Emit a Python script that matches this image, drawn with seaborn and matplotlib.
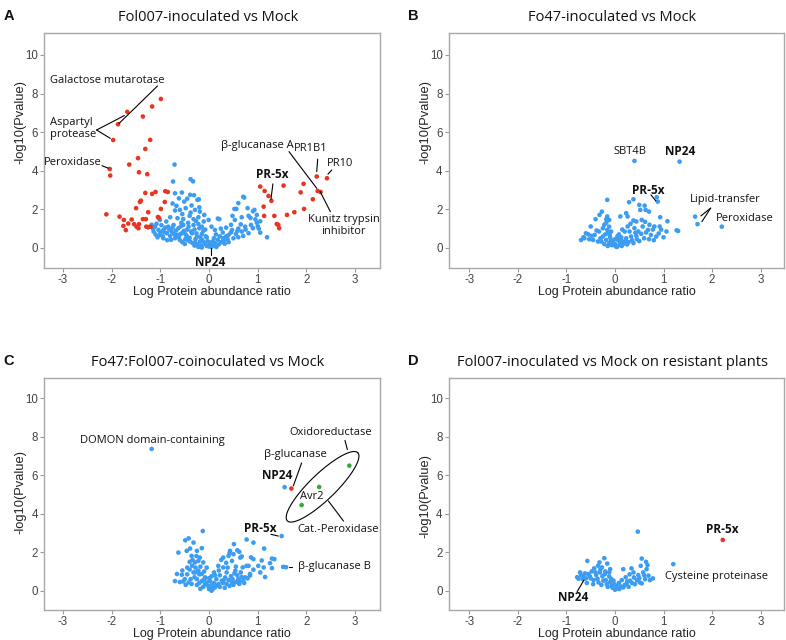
import numpy as np
import pandas as pd
import matplotlib.pyplot as plt
import seaborn as sns

sns.set_theme(style="white")
plt.rcParams['font.family'] = ['Liberation Sans', 'DejaVu Sans']
plt.rcParams['axes.unicode_minus'] = False

# colores de los puntos
colores = {'ns': '#3b9cf2', 'sig': '#e8351f', 'avr': '#38a836'}

# ---------------- Panel A: Fol007-inoculated vs Mock ----------------
a_azul = [
    (-0.71, 4.32), (-0.74, 3.44), (-0.38, 3.56), (-0.33, 3.45), (-0.70, 2.83), (-0.56, 2.87), (-0.39, 2.75),
    (-0.31, 2.73), (-0.24, 2.49), (-0.62, 2.57), (-0.51, 2.40), (-0.67, 2.18), (-0.60, 1.97), (-0.70, 1.94),
    (-0.48, 2.06), (-0.38, 1.83), (-0.29, 1.97), (-0.19, 1.88), (-0.80, 1.59), (-0.65, 1.54), (-0.53, 1.49),
    (-0.40, 1.66), (-0.32, 1.49), (-0.22, 1.59), (-0.10, 1.71), (-0.88, 1.37), (-1.01, 1.45), (-1.11, 1.10),
    (-1.04, 0.93), (-1.14, 0.85), (-1.01, 0.67), (-0.94, 0.93), (-0.84, 1.10), (-0.73, 1.19), (-0.63, 1.02),
    (-0.53, 1.19), (-0.42, 1.10), (-0.32, 1.19), (-0.22, 1.24), (-0.11, 1.37), (-0.01, 1.45), (-0.87, 0.76),
    (-0.77, 0.85), (-0.66, 0.67), (-0.56, 0.76), (-0.46, 0.62), (-0.35, 0.76), (-0.25, 0.59), (-0.15, 0.72),
    (-0.05, 0.55), (-0.70, 0.50), (-0.60, 0.41), (-0.49, 0.45), (-0.39, 0.33), (-0.29, 0.28), (-0.19, 0.33),
    (-0.08, 0.21), (0.00, 0.07), (-1.06, 0.55), (-0.94, 0.50),
    (-1.18, 1.20), (-1.15, 1.00), (-1.10, 0.70), (-1.08, 1.25), (-0.98, 1.18), (-0.95, 0.60), (-0.90, 1.05),
    (-0.82, 0.95), (-0.80, 0.62), (-0.78, 0.42), (-0.75, 1.05), (-0.72, 0.72), (-0.68, 0.90), (-0.62, 0.55),
    (-0.58, 1.12), (-0.55, 0.30), (-0.52, 0.88), (-0.48, 0.70), (-0.45, 0.95), (-0.44, 0.40), (-0.40, 0.52),
    (-0.37, 0.85), (-0.34, 0.25), (-0.30, 0.95), (-0.28, 0.45), (-0.26, 0.75), (-0.24, 0.18), (-0.20, 1.02),
    (-0.18, 0.55), (-0.16, 0.12), (-0.14, 0.40), (-0.12, 0.88), (-0.10, 0.28), (-0.07, 0.60), (-0.05, 0.10),
    (-0.03, 0.35), (0.02, 0.20), (-0.60, 0.70), (-0.50, 0.20), (-0.86, 0.40), (-0.92, 0.82), (-1.00, 0.80),
    (-0.43, 1.30), (-0.57, 1.30), (-0.27, 1.40), (-0.15, 1.10), (-0.08, 0.95), (-0.36, 2.20), (-0.45, 2.55),
    (-0.20, 2.10), (-0.55, 1.75), (-0.75, 2.30), (-0.15, 0.02), (-0.22, 0.05), (-0.30, 0.12),
    (-0.21, 2.52), (0.72, 2.61), (0.60, 2.32), (0.52, 2.02), (0.79, 2.06), (0.93, 1.97), (0.98, 1.71),
    (0.81, 1.66), (0.67, 1.59), (0.48, 1.66), (0.53, 1.45), (0.21, 1.49), (0.98, 1.31), (0.86, 1.19),
    (0.74, 1.10), (0.60, 1.00), (0.47, 0.93), (0.67, 0.85), (0.81, 0.76), (1.05, 0.79), (1.19, 0.55),
    (0.40, 0.67), (0.29, 0.50), (0.12, 0.93), (0.05, 1.10), (0.05, 0.05), (0.10, 0.12), (0.12, 0.25),
    (0.15, 0.05), (0.20, 0.18), (0.25, 0.30), (0.30, 0.38), (0.18, 0.42), (0.22, 0.60), (0.35, 0.60),
    (0.38, 0.45), (0.45, 0.80), (0.55, 0.72), (0.60, 0.55), (0.70, 0.62), (0.75, 0.95), (0.90, 1.02),
    (1.00, 1.12), (0.65, 1.22), (0.45, 1.20), (1.05, 1.38), (0.95, 1.48), (0.85, 1.55), (0.08, 0.35),
    (0.14, 0.70), (0.32, 0.22), (0.28, 0.80), (0.40, 0.30), (0.50, 0.50), (0.58, 0.88), (0.10, 0.50),
    (0.70, 2.65), (0.18, 1.52), (0.56, 2.02), (0.90, 1.90), (1.02, 1.00), (0.35, 1.05), (0.03, 0.28),
    (0.24, 1.00),
]
a_rojo = [
    (-0.99, 7.72), (-1.17, 7.33), (-1.68, 7.05), (-1.87, 6.41), (-1.36, 6.81), (-1.97, 5.59), (-1.21, 5.60),
    (-1.31, 5.13), (-1.46, 4.65), (-1.64, 4.32), (-2.04, 4.09), (-2.03, 3.75), (-1.44, 3.92), (-1.27, 3.82),
    (-1.31, 2.85), (-1.17, 2.80), (-1.10, 2.90), (-0.90, 2.94), (-0.85, 2.90), (-1.40, 2.45), (-1.42, 2.38),
    (-0.91, 2.38), (-1.50, 2.06), (-1.25, 1.85), (-0.99, 2.02), (-2.11, 1.74), (-1.84, 1.62), (-1.75, 1.45),
    (-1.59, 1.47), (-1.36, 1.49), (-1.30, 1.49), (-1.03, 1.55), (-1.66, 1.26), (-1.54, 1.23), (-1.49, 1.10),
    (-1.44, 1.23), (-1.76, 1.14), (-1.71, 0.92), (-1.45, 1.02), (-1.29, 1.10), (-1.25, 1.07), (-1.20, 1.10),
    (-1.05, 1.60),
    (2.21, 3.70), (2.42, 3.61), (1.94, 3.32), (1.53, 3.23), (1.05, 3.18), (1.14, 2.95), (1.88, 2.88),
    (2.23, 2.95), (2.29, 2.90), (1.22, 2.69), (1.28, 2.44), (2.13, 2.52), (1.12, 2.14), (1.95, 2.02),
    (1.75, 1.85), (1.60, 1.71), (1.34, 1.66), (1.13, 1.66), (1.39, 1.24), (1.42, 1.19), (1.44, 1.02),
]

# ---------------- Panel B: Fo47-inoculated vs Mock ----------------
b_azul = [
    (0.40, 4.51), (1.33, 4.47), (0.86, 2.63), (0.88, 2.40), (1.65, 1.62), (1.70, 1.23), (2.20, 1.10),
    (-0.16, 2.49), (0.29, 2.37), (0.38, 2.52), (0.50, 2.23), (0.61, 2.19), (0.63, 1.97), (0.70, 1.88),
    (0.52, 1.97), (-0.27, 1.88), (0.23, 1.80), (0.26, 1.63), (0.44, 1.37), (0.38, 1.42), (0.11, 1.63),
    (-0.16, 1.63), (-0.32, 1.71), (-0.40, 1.49), (-0.18, 1.49), (0.92, 1.11), (1.06, 0.85), (1.30, 0.88),
    (0.71, 1.20), (0.81, 1.11), (-0.50, 1.11), (-0.60, 0.76), (-0.70, 0.41), (-0.63, 0.50), (-0.53, 0.45),
    (-0.42, 0.67), (-0.33, 0.85), (-0.25, 1.02), (-0.22, 1.20), (-0.16, 0.93), (-0.11, 0.67), (-0.08, 0.41),
    (-0.05, 0.15), (0.02, 0.07), (0.09, 0.15), (0.16, 0.33), (0.23, 0.50), (0.33, 0.59), (0.44, 0.62),
    (0.54, 0.73), (0.64, 0.80), (0.74, 0.67), (0.85, 0.59), (0.30, 0.85), (0.40, 1.02), (0.57, 1.11),
    (0.68, 0.93), (0.20, 0.85), (0.26, 1.11), (0.06, 0.41), (0.13, 0.55), (-0.18, 0.41), (-0.25, 0.59),
    (-0.28, 0.33), (-0.35, 0.33), (-0.45, 0.41), (0.93, 1.59), (1.08, 1.38), (1.27, 0.91),
    (-0.15, 0.10), (-0.12, 0.25), (-0.10, 0.55), (-0.14, 0.80), (-0.12, 1.10), (-0.18, 1.30), (-0.20, 0.70),
    (-0.22, 0.20), (-0.05, 0.30), (0.00, 0.20), (0.04, 0.05), (0.10, 0.28), (0.14, 0.10), (0.18, 0.22),
    (0.22, 0.35), (0.28, 0.30), (0.35, 0.40), (0.38, 0.25), (0.45, 0.45), (0.50, 0.35), (0.60, 0.50),
    (0.08, 0.70), (0.15, 0.95), (0.32, 1.25), (0.48, 0.85), (0.55, 1.45), (0.62, 1.35), (0.78, 0.95),
    (0.90, 0.75), (-0.08, 0.85), (-0.30, 0.50), (-0.38, 0.90), (-0.48, 0.62), (-0.55, 0.70), (-0.65, 0.55),
    (-0.12, 1.45), (-0.07, 0.15), (0.00, 0.45), (0.05, 0.60), (0.12, 0.40), (0.25, 0.18), (0.42, 0.78),
    (0.70, 0.45), (0.80, 0.40), (1.00, 0.55), (0.95, 0.95),
]

# ---------------- Panel C: Fo47:Fol007-coinoculated vs Mock ----------------
c_azul = [
    (-1.18, 7.37), (1.55, 5.38), (1.49, 2.84), (1.52, 1.24), (1.58, 1.22),
    (-0.13, 3.10), (-0.49, 2.62), (-0.42, 2.72), (-0.32, 2.50), (-0.39, 2.19), (-0.63, 1.98), (-0.46, 2.07),
    (-0.25, 2.07), (-0.15, 2.21), (-0.36, 1.81), (-0.19, 1.72), (-0.29, 1.47), (-0.12, 1.47), (-0.66, 0.87),
    (-0.56, 0.83), (-0.53, 0.48), (-0.42, 0.43), (-0.36, 0.35), (-0.25, 0.60), (-0.32, 0.95), (-0.22, 1.04),
    (-0.15, 0.87), (-0.08, 0.69), (-0.05, 0.43), (0.02, 0.17), (0.05, 0.00), (0.12, 0.17), (0.19, 0.35),
    (0.26, 0.52), (0.33, 0.69), (0.36, 0.95), (0.29, 1.21), (0.19, 1.29), (0.29, 1.72), (0.40, 1.81),
    (0.47, 1.55), (0.50, 1.90), (0.43, 2.07), (0.58, 2.10), (0.64, 1.72), (0.69, 1.21), (0.54, 1.04),
    (0.77, 2.66), (0.81, 1.29), (0.84, 0.87), (0.74, 0.69), (0.60, 0.60), (0.47, 0.43), (0.36, 0.35),
    (0.91, 1.64), (0.51, 2.42), (0.91, 2.50), (1.13, 2.19), (0.62, 2.02), (0.42, 1.95), (0.67, 1.78),
    (0.86, 1.73), (1.08, 1.57), (1.29, 1.67), (1.25, 1.43), (1.34, 1.64), (1.01, 1.29), (1.12, 1.21),
    (0.77, 1.29), (0.91, 1.09), (1.05, 0.95), (0.84, 0.79), (0.67, 0.71), (1.15, 0.71), (0.79, 0.64),
    (1.29, 1.17),
    (-0.70, 0.50), (-0.60, 0.45), (-0.50, 0.60), (-0.45, 0.85), (-0.40, 1.10), (-0.35, 1.30), (-0.28, 1.20),
    (-0.30, 0.70), (-0.25, 0.30), (-0.20, 0.85), (-0.18, 1.25), (-0.15, 0.50), (-0.12, 0.20), (-0.10, 1.00),
    (-0.08, 0.35), (-0.05, 1.20), (-0.02, 0.25), (0.00, 0.08), (0.02, 0.50), (0.08, 0.10), (0.10, 0.40),
    (0.15, 0.25), (0.15, 0.60), (0.22, 0.20), (0.22, 0.80), (0.28, 0.40), (0.32, 0.15), (0.40, 0.55),
    (0.42, 0.25), (0.45, 0.75), (0.50, 0.30), (0.52, 0.90), (0.55, 0.45), (0.58, 0.80), (0.62, 0.35),
    (0.65, 0.95), (0.70, 0.50), (0.72, 0.40), (0.10, 0.95), (0.05, 0.75), (-0.22, 1.55), (-0.26, 1.80),
    (-0.34, 1.60), (-0.40, 1.50), (-0.45, 1.20), (-0.55, 1.05), (-0.48, 0.30), (-0.38, 0.60), (0.20, 1.05),
    (0.35, 1.45), (0.25, 1.60), (-0.18, 0.10), (-0.10, 0.60), (0.05, 0.30), (0.12, 0.80), (0.30, 0.55),
    (0.38, 1.20), (0.48, 0.60), (0.55, 1.25), (0.62, 0.50), (-0.28, 0.95), (-0.20, 0.40), (0.00, 0.65),
]
c_rojo = [(1.69, 5.31)]
c_verde = [(2.88, 6.50), (2.26, 5.39), (1.90, 4.45)]

# ---------------- Panel D: Fol007-inoculated vs Mock on resistant plants ----------------
d_azul = [
    (0.47, 3.07), (1.20, 1.38), (-0.22, 1.69), (-0.57, 1.55), (-0.32, 1.47), (-0.16, 1.41), (-0.43, 1.16),
    (-0.27, 1.21), (-0.10, 1.12), (0.55, 1.67), (0.64, 1.50), (0.67, 1.33), (0.53, 1.29), (0.34, 1.16),
    (0.17, 1.12), (-0.72, 0.95), (-0.65, 0.78), (-0.60, 0.64), (-0.75, 0.62), (-0.50, 0.64), (-0.39, 0.81),
    (-0.31, 0.95), (-0.21, 0.86), (-0.12, 0.74), (-0.03, 0.52), (0.03, 0.26), (0.09, 0.09), (0.17, 0.17),
    (0.24, 0.34), (0.31, 0.52), (0.39, 0.69), (0.48, 0.81), (0.58, 0.95), (0.69, 0.78), (0.78, 0.64),
    (0.62, 0.60), (0.51, 0.43), (0.41, 0.34), (0.65, 1.12), (-0.24, 0.52), (-0.34, 0.43), (-0.45, 0.34),
    (-0.17, 0.34), (-0.07, 0.26), (-0.55, 0.86), (-0.66, 0.60),
    (-0.78, 0.70), (-0.70, 0.80), (-0.62, 0.90), (-0.58, 0.40), (-0.52, 0.75), (-0.48, 1.00), (-0.44, 0.55),
    (-0.40, 0.95), (-0.36, 0.62), (-0.30, 1.10), (-0.28, 0.30), (-0.26, 0.75), (-0.20, 1.00), (-0.19, 0.55),
    (-0.15, 0.20), (-0.12, 0.95), (-0.10, 0.45), (-0.08, 0.62), (-0.05, 0.15), (-0.02, 0.35), (0.00, 0.05),
    (0.05, 0.12), (0.08, 0.40), (0.12, 0.22), (0.14, 0.55), (0.20, 0.30), (0.22, 0.70), (0.28, 0.20),
    (0.30, 0.85), (0.35, 0.40), (0.38, 0.95), (0.45, 0.55), (0.50, 0.65), (0.55, 0.38), (0.60, 0.80),
    (0.72, 0.55), (0.25, 0.48), (-0.35, 1.30),
]
d_rojo = [(2.22, 2.64)]


def tabla(grupos):
    filas = []
    for nombre, puntos in grupos.items():
        for x, y in puntos:
            filas.append({'ratio': x, 'logp': y, 'grupo': nombre})
    return pd.DataFrame(filas)


fig = plt.figure(figsize=(7.86, 6.4), dpi=100)

paneles = {
    'A': dict(pos=[0.0560, 0.5813, 0.4275, 0.3672], xlim=(-3.39, 3.51), ylim=(-1.04, 11.14), ylab_y=0.62,
              titulo='Fol007-inoculated vs Mock', datos={'ns': a_azul, 'sig': a_rojo}),
    'B': dict(pos=[0.5712, 0.5813, 0.4262, 0.3672], xlim=(-3.42, 3.48), ylim=(-1.04, 11.14), ylab_y=0.62,
              titulo='Fo47-inoculated vs Mock', datos={'ns': b_azul}),
    'C': dict(pos=[0.0560, 0.0470, 0.4275, 0.3625], xlim=(-3.39, 3.51), ylim=(-1.0, 11.06), ylab_y=0.51,
              titulo='Fo47:Fol007-coinoculated vs Mock', datos={'ns': c_azul, 'sig': c_rojo, 'avr': c_verde}),
    'D': dict(pos=[0.5712, 0.0470, 0.4262, 0.3625], xlim=(-3.42, 3.48), ylim=(-1.0, 11.06), ylab_y=0.49,
              titulo='Fol007-inoculated vs Mock on resistant plants', datos={'ns': d_azul, 'sig': d_rojo}),
}

ejes = {}
for letra, p in paneles.items():
    ax = fig.add_axes(p['pos'])
    df = tabla(p['datos'])
    sns.scatterplot(data=df, x='ratio', y='logp', hue='grupo', palette=colores,
                    s=11, linewidth=0, legend=False, ax=ax, zorder=3)
    ax.set_xlim(*p['xlim'])
    ax.set_ylim(*p['ylim'])
    ax.set_xticks([-3, -2, -1, 0, 1, 2, 3])
    ax.set_yticks([0, 2, 4, 6, 8, 10])
    ax.tick_params(axis='both', length=3, width=0.8, color='#9a9a9a', labelsize=8.3,
                   labelcolor='#444444', pad=1.5, bottom=True, left=True)
    for sp in ax.spines.values():
        sp.set_color('#a8a8a8')
        sp.set_linewidth(1.0)
    ax.set_xlabel('Log Protein abundance ratio', fontsize=9, color='#222222', labelpad=0)
    ax.set_ylabel('-log10(Pvalue)', fontsize=9.3, color='#222222')
    ax.yaxis.set_label_coords(-0.052, p['ylab_y'])
    # titulo y letra del panel
    bb = ax.get_position()
    fig.text(bb.x0 + bb.width / 2 - 0.005, bb.y1 + 0.012, p['titulo'], ha='center', va='bottom',
             fontsize=10.5, family=['Open Sans', 'DejaVu Sans'], color='#111111')
    fig.text(bb.x0 - 0.052, bb.y1 + 0.016, letra, ha='left', va='bottom', fontsize=10.5,
             fontweight='bold', color='#111111')
    ejes[letra] = ax

fuente = ['Open Sans', 'DejaVu Sans']


def etiqueta(ax, x, y, texto, negrita=False, ha='center', size=8):
    ax.text(x, y, texto, ha=ha, va='center', fontsize=8.5 if negrita else size,
            fontweight='bold' if negrita else 'normal', family=fuente, color='#111111',
            linespacing=1.1, zorder=4)


def linea(ax, x0, y0, x1, y1):
    ax.plot([x0, x1], [y0, y1], color='black', lw=0.8, zorder=4)


# anotaciones panel A
ax = ejes['A']
etiqueta(ax, -2.09, 8.70, 'Galactose mutarotase')
linea(ax, -1.06, 8.39, -1.85, 6.45)
etiqueta(ax, -3.27, 6.20, 'Aspartyl\nprotease', ha='left')
linea(ax, -2.31, 6.11, -1.74, 6.86)
linea(ax, -2.31, 6.11, -2.03, 5.68)
etiqueta(ax, -2.79, 4.42, 'Peroxidase')
linea(ax, -2.20, 4.26, -2.07, 4.13)
etiqueta(ax, 0.98, 5.32, 'β-glucanase A')
linea(ax, 1.64, 4.99, 2.21, 3.09)
etiqueta(ax, 2.08, 5.15, 'PR1B1')
linea(ax, 2.23, 4.60, 2.21, 3.95)
etiqueta(ax, 2.69, 4.39, 'PR10')
linea(ax, 2.52, 4.04, 2.44, 3.82)
etiqueta(ax, 1.29, 3.83, 'PR-5x', negrita=True)
linea(ax, 1.31, 3.32, 1.27, 2.52)
etiqueta(ax, 2.76, 1.16, 'Kunitz trypsin\ninhibitor')
linea(ax, 2.49, 1.88, 2.28, 2.92)
etiqueta(ax, 0.03, -0.74, 'NP24', negrita=True)
linea(ax, 0.03, -0.36, 0.03, -0.02)

# anotaciones panel B
ax = ejes['B']
etiqueta(ax, 0.30, 4.99, 'SBT4B')
etiqueta(ax, 1.35, 4.99, 'NP24', negrita=True)
etiqueta(ax, 0.69, 3.00, 'PR-5x', negrita=True)
linea(ax, 0.74, 2.75, 0.84, 2.44)
etiqueta(ax, 2.28, 2.49, 'Lipid-transfer')
linea(ax, 1.97, 2.06, 1.77, 1.66)
linea(ax, 1.97, 2.06, 1.79, 1.36)
etiqueta(ax, 2.68, 1.50, 'Peroxidase')

# anotaciones panel C
ax = ejes['C']
etiqueta(ax, -1.16, 7.81, 'DOMON domain-containing')
etiqueta(ax, 1.39, 5.99, 'NP24', negrita=True)
etiqueta(ax, 1.77, 7.07, 'β-glucanase')
linea(ax, 1.90, 6.64, 1.73, 5.45)
etiqueta(ax, 2.49, 8.24, 'Oxidoreductase')
linea(ax, 2.79, 7.81, 2.84, 7.33)
etiqueta(ax, 2.11, 4.91, 'Avr2')
etiqueta(ax, 2.64, 3.16, 'Cat.-Peroxidase')
linea(ax, 2.76, 3.62, 2.45, 4.66)
etiqueta(ax, 1.06, 3.24, 'PR-5x', negrita=True)
linea(ax, 1.27, 2.93, 1.42, 2.84)
etiqueta(ax, 1.82, 1.24, 'β-glucanase B', ha='left')
linea(ax, 1.65, 1.24, 1.71, 1.24)

# elipse alrededor de Avr2 (dibujada en pixeles y pasada a datos)
bb = ax.get_window_extent()
ppx = bb.width / (ax.get_xlim()[1] - ax.get_xlim()[0])
ppy = bb.height / (ax.get_ylim()[1] - ax.get_ylim()[0])
t = np.linspace(0, 2 * np.pi, 200)
ang = np.deg2rad(44)
semi_a, semi_b = 49, 13
u = semi_a * np.cos(t) * np.cos(ang) - semi_b * np.sin(t) * np.sin(ang)
v = semi_a * np.cos(t) * np.sin(ang) + semi_b * np.sin(t) * np.cos(ang)
ax.plot(2.33 + u / ppx, 5.40 + v / ppy, color='black', lw=0.8, zorder=4)

# anotaciones panel D
ax = ejes['D']
etiqueta(ax, 2.21, 3.16, 'PR-5x', negrita=True)
etiqueta(ax, 2.10, 0.73, 'Cysteine proteinase')
etiqueta(ax, -0.86, -0.36, 'NP24', negrita=True)
linea(ax, -0.78, -0.05, -0.64, 0.55)

plt.savefig('out.png', dpi=100)
